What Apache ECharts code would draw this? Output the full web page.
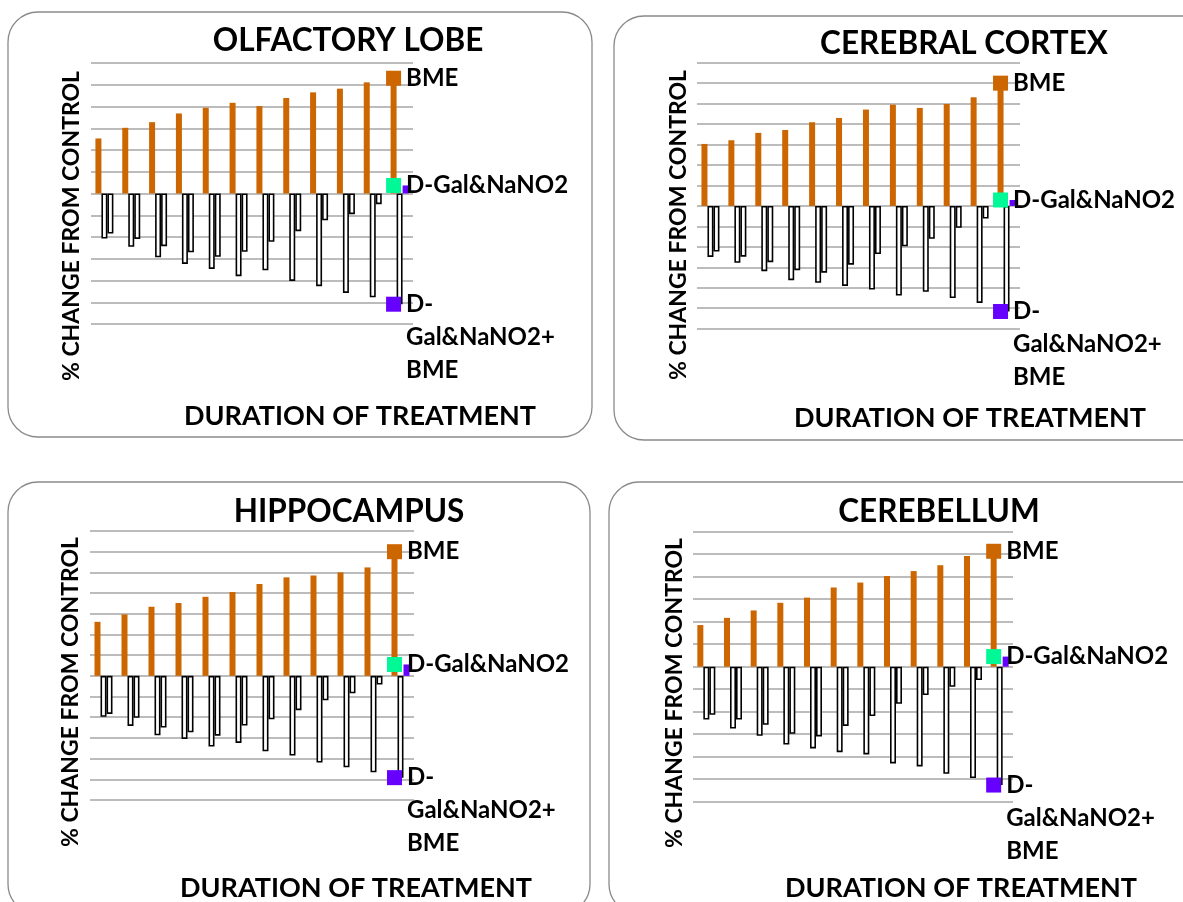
<!DOCTYPE html>
<html>
<head>
<meta charset="utf-8">
<script src="https://cdn.jsdelivr.net/npm/echarts@6/dist/echarts.min.js"></script>
<style>
html,body{margin:0;padding:0;background:#fff;}
#c{width:1183px;height:902px;}
</style>
</head>
<body>
<div id="c"></div>
<script>
// ---------- DATA (% change from control) ----------
const categories = ['1','2','3','4','5','6','7','8','9','10','11','12'];
const seriesNames = ['BME', 'D-Gal&NaNO2+BME', 'D-Gal&NaNO2'];
const labelTexts = ['BME', 'D-\nGal&NaNO2+\nBME', 'D-Gal&NaNO2'];
const panelTitles = ['OLFACTORY LOBE', 'CEREBRAL CORTEX', 'HIPPOCAMPUS', 'CEREBELLUM'];
const yAxisName = '% CHANGE FROM CONTROL';
const xAxisName = 'DURATION OF TREATMENT';

// Olfactory lobe
const bmeOL   = [25.3, 30.2, 32.8, 36.8, 39.4, 41.7, 40.2, 43.9, 46.5, 48.2, 51.1, 53.0];
const dgbOL   = [-20.7, -24.5, -29.3, -32.4, -34.7, -38.0, -35.3, -40.2, -42.6, -45.7, -47.7, -50.9];
const dgOL    = [-18.4, -20.9, -24.2, -27.0, -29.1, -26.8, -22.2, -17.3, -12.3, -9.5, -4.9, 3.7];
// Cerebral cortex
const bmeCC   = [30.3, 32.1, 35.7, 37.1, 40.9, 43.0, 47.1, 49.5, 47.9, 49.8, 53.1, 60.0];
const dgbCC   = [-24.9, -27.8, -31.9, -36.3, -37.6, -39.1, -40.9, -43.8, -42.0, -45.0, -47.4, -51.6];
const dgCC    = [-22.3, -24.8, -27.5, -31.4, -32.6, -28.7, -23.5, -19.7, -16.1, -10.7, -6.2, 2.9];
// Hippocampus
const bmeHC   = [26.1, 29.7, 33.4, 35.2, 38.2, 40.5, 44.4, 47.6, 48.5, 50.0, 52.4, 60.0];
const dgbHC   = [-19.8, -24.2, -28.7, -30.5, -34.2, -32.4, -36.5, -38.5, -41.9, -44.2, -46.6, -49.2];
const dgHC    = [-18.4, -20.3, -25.0, -27.3, -28.9, -24.0, -21.0, -16.6, -11.8, -8.4, -4.2, 5.5];
// Cerebellum
const bmeCB   = [18.5, 21.7, 25.0, 28.4, 30.7, 35.2, 37.4, 40.3, 42.5, 45.1, 49.2, 51.3];
const dgbCB   = [-23.5, -27.5, -30.7, -34.6, -36.3, -38.0, -39.0, -43.0, -44.3, -47.6, -49.5, -52.6];
const dgCB    = [-21.4, -23.5, -25.8, -29.8, -31.0, -26.3, -21.9, -16.5, -12.6, -8.9, -5.9, 4.5];

const yMin = [-60, -60, -60, -60];
const yMax = [60, 70, 70, 60];
const yStep = 10;

// ---------- LAYOUT / STYLE ----------
const FONT = 'Lato, "Open Sans", sans-serif';
const C_BME = '#CC6600', C_GREEN = '#00F996', C_PURPLE = '#6600FF';
const keyColors = [C_BME, C_PURPLE, C_GREEN];

const panels = [
  { data: [bmeOL, dgbOL, dgOL], rect: [8, 12, 584, 425], title: [348, 41], yname: [72, 226], xname: [360, 416], grid: [91, 63, 322, 261] },
  { data: [bmeCC, dgbCC, dgCC], rect: [614, 16, 620, 424], title: [964, 44], yname: [679, 225], xname: [970, 418], grid: [697, 62.7, 323, 266] },
  { data: [bmeHC, dgbHC, dgHC], rect: [8, 482, 582, 432], title: [349, 512], yname: [71, 692], xname: [356, 888], grid: [90, 531, 324, 269] },
  { data: [bmeCB, dgbCB, dgCB], rect: [609, 482, 620, 432], title: [939, 512], yname: [675, 693], xname: [961, 888], grid: [693, 531.7, 320, 270] }
];

const grids = [], xAxes = [], yAxes = [], series = [], graphics = [];

panels.forEach((p, i) => {
  graphics.push({
    type: 'rect', z: 0, silent: true,
    shape: { x: p.rect[0], y: p.rect[1], width: p.rect[2], height: p.rect[3], r: 30 },
    style: { fill: 'none', stroke: '#8a8a8a', lineWidth: 1.3 }
  });
  graphics.push({
    type: 'text', x: p.title[0], y: p.title[1], z: 10,
    style: { text: panelTitles[i], font: 'bold 31.5px ' + FONT, fill: '#000', align: 'center', verticalAlign: 'middle' }
  });
  graphics.push({
    type: 'text', x: p.yname[0], y: p.yname[1], rotation: Math.PI / 2, z: 10,
    style: { text: yAxisName, font: 'bold 23px ' + FONT, fill: '#000', align: 'center', verticalAlign: 'middle' }
  });
  graphics.push({
    type: 'text', x: p.xname[0], y: p.xname[1], z: 10,
    style: { text: xAxisName, font: 'bold 27px ' + FONT, fill: '#000', align: 'center', verticalAlign: 'middle' }
  });

  grids.push({ left: p.grid[0], top: p.grid[1], width: p.grid[2], height: p.grid[3], containLabel: false });
  xAxes.push({
    type: 'category', gridIndex: i, data: categories,
    axisLine: { show: false }, axisTick: { show: false }, axisLabel: { show: false }, splitLine: { show: false }
  });
  yAxes.push({
    type: 'value', gridIndex: i, min: yMin[i], max: yMax[i], interval: yStep,
    axisLine: { show: false }, axisTick: { show: false }, axisLabel: { show: false },
    splitLine: { show: true, lineStyle: { color: '#a6a6a6', width: 1.5 } }
  });

  const [bme, dgb, dg] = p.data;
  const last = categories.length - 1;

  series.push({
    type: 'bar', name: seriesNames[0], xAxisIndex: i, yAxisIndex: i,
    data: bme, barWidth: 6, barGap: '0%', itemStyle: { color: C_BME }, z: 2, silent: true
  });
  series.push({
    type: 'bar', name: seriesNames[1], xAxisIndex: i, yAxisIndex: i,
    data: dgb, barWidth: 6, barGap: '0%',
    itemStyle: { color: '#ffffff', borderColor: '#000', borderWidth: 1.6 }, z: 2, silent: true
  });
  series.push({
    type: 'bar', name: seriesNames[2], xAxisIndex: i, yAxisIndex: i,
    data: dg.map((v, k) => k === last
      ? { value: v, itemStyle: { color: C_PURPLE, borderColor: C_PURPLE, borderWidth: 0 } }
      : v),
    barWidth: 6, barGap: '0%',
    itemStyle: { color: '#ffffff', borderColor: '#000', borderWidth: 1.6 }, z: 2, silent: true
  });

  // legend keys with series name labels, attached to the last value of each series
  series.push({
    type: 'scatter', xAxisIndex: i, yAxisIndex: i, z: 5, silent: true,
    symbol: 'rect', symbolSize: 15, symbolOffset: [-6, 0],
    data: p.data.map((arr, s) => ({
      value: [categories[last], arr[last]],
      itemStyle: { color: keyColors[s], opacity: 1 },
      label: {
        show: true, position: 'right', distance: 5,
        formatter: labelTexts[s],
        offset: s === 1 ? [0, 33] : [0, 0],
        fontFamily: FONT, fontWeight: 'bold', fontSize: 24, lineHeight: 33, color: '#000'
      }
    }))
  });
});

const chart = echarts.init(document.getElementById('c'), null, { renderer: 'canvas' });
chart.setOption({
  animation: false,
  backgroundColor: '#ffffff',
  grid: grids, xAxis: xAxes, yAxis: yAxes, series: series, graphic: graphics
});
</script>
</body>
</html>
